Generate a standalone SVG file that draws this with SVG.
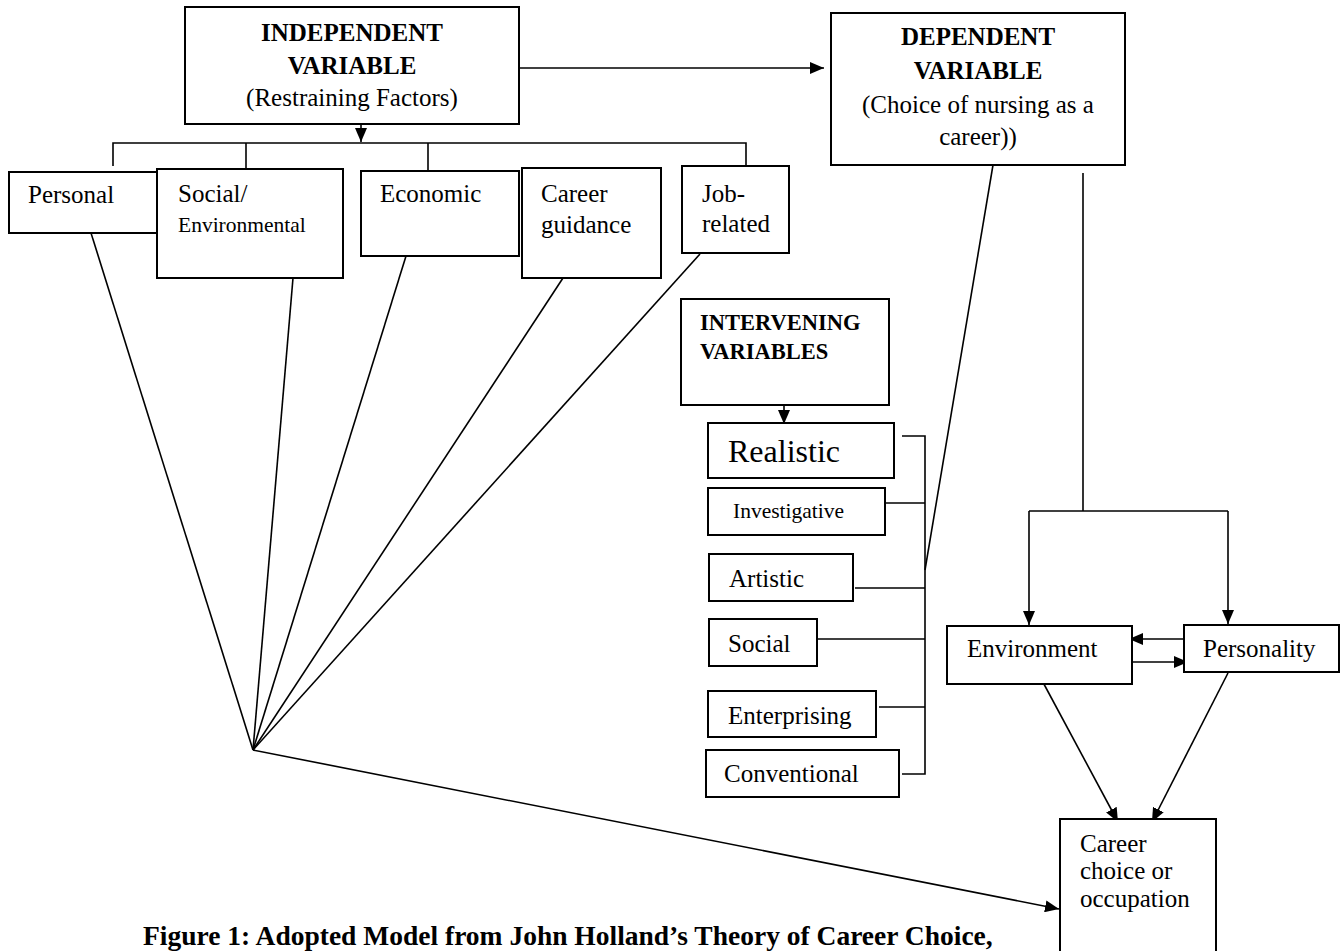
<svg xmlns="http://www.w3.org/2000/svg" width="1341" height="951" viewBox="0 0 1341 951">
<style>
.box{fill:#fff;stroke:#000;stroke-width:2}
.ln{fill:none;stroke:#000;stroke-width:1.6}
text{font-family:"Liberation Serif","Times New Roman",serif;fill:#000;font-size:25px}
.b{font-weight:bold}
.c{text-anchor:middle}
</style>
<defs>
<marker id="ah" markerWidth="14" markerHeight="12" refX="14" refY="6" orient="auto" markerUnits="userSpaceOnUse">
<path d="M0,0 L14,6 L0,12 z" fill="#000"/>
</marker>
</defs>
<rect width="1341" height="951" fill="#fff"/>

<g id="connectors">
<line class="ln" x1="361" y1="124" x2="361" y2="142" marker-end="url(#ah)"/>
<polyline class="ln" points="113,166 113,143 746,143 746,166"/>
<line class="ln" x1="246" y1="143" x2="246" y2="169"/>
<line class="ln" x1="428" y1="143" x2="428" y2="171"/>
<line class="ln" x1="520" y1="68" x2="824" y2="68" marker-end="url(#ah)"/>
<line class="ln" x1="91" y1="233" x2="253" y2="750"/>
<line class="ln" x1="293" y1="278" x2="253" y2="750"/>
<line class="ln" x1="406" y1="256" x2="253" y2="750"/>
<line class="ln" x1="563" y1="278" x2="253" y2="750"/>
<line class="ln" x1="700" y1="254" x2="253" y2="750"/>
<line class="ln" x1="253" y1="750" x2="1059" y2="909" marker-end="url(#ah)"/>
<line class="ln" x1="993" y1="165" x2="925" y2="570"/>
<line class="ln" x1="784" y1="405" x2="784" y2="424" marker-end="url(#ah)"/>
<polyline class="ln" points="902,436 925,436 925,774 902,774"/>
<line class="ln" x1="880" y1="503" x2="925" y2="503"/>
<line class="ln" x1="855" y1="588" x2="925" y2="588"/>
<line class="ln" x1="812" y1="639" x2="925" y2="639"/>
<line class="ln" x1="879" y1="707" x2="925" y2="707"/>
<line class="ln" x1="1083" y1="173" x2="1083" y2="511"/>
<polyline class="ln" points="1029,511 1228,511"/>
<line class="ln" x1="1029" y1="511" x2="1029" y2="625" marker-end="url(#ah)"/>
<line class="ln" x1="1228" y1="511" x2="1228" y2="624" marker-end="url(#ah)"/>
<line class="ln" x1="1190" y1="639" x2="1129" y2="639" marker-end="url(#ah)"/>
<line class="ln" x1="1128" y1="662" x2="1188" y2="662" marker-end="url(#ah)"/>
<line class="ln" x1="1038" y1="673" x2="1118" y2="822" marker-end="url(#ah)"/>
<line class="ln" x1="1228" y1="673" x2="1152" y2="822" marker-end="url(#ah)"/>
</g>

<g id="independent">
<rect class="box" x="185" y="7" width="334" height="117"/>
<text class="b c" x="352" y="41">INDEPENDENT</text>
<text class="b c" x="352" y="74">VARIABLE</text>
<text class="c" x="352" y="106">(Restraining Factors)</text>
</g>

<g id="dependent">
<rect class="box" x="831" y="13" width="294" height="152"/>
<text class="b c" x="978" y="45">DEPENDENT</text>
<text class="b c" x="978" y="79">VARIABLE</text>
<text class="c" x="978" y="113">(Choice of nursing as a</text>
<text class="c" x="978" y="145">career))</text>
</g>

<g id="personal">
<rect class="box" x="9" y="172" width="148" height="61"/>
<text x="28" y="203">Personal</text>
</g>
<g id="social-env">
<rect class="box" x="157" y="169" width="186" height="109"/>
<text x="178" y="202">Social/</text>
<text x="178" y="232" style="font-size:21.5px">Environmental</text>
</g>
<g id="economic">
<rect class="box" x="361" y="171" width="158" height="85"/>
<text x="380" y="202">Economic</text>
</g>
<g id="career-guidance">
<rect class="box" x="522" y="168" width="139" height="110"/>
<text x="541" y="202">Career</text>
<text x="541" y="233">guidance</text>
</g>
<g id="job-related">
<rect class="box" x="682" y="166" width="107" height="87"/>
<text x="702" y="202">Job-</text>
<text x="702" y="232">related</text>
</g>

<g id="intervening">
<rect class="box" x="681" y="299" width="208" height="106"/>
<text class="b" x="700" y="330" style="font-size:22.5px">INTERVENING</text>
<text class="b" x="700" y="359" style="font-size:22.5px">VARIABLES</text>
</g>
<g id="realistic">
<rect class="box" x="708" y="423" width="186" height="55"/>
<text x="728" y="462" style="font-size:32px">Realistic</text>
</g>
<g id="investigative">
<rect class="box" x="708" y="488" width="177" height="47"/>
<text x="733" y="518" style="font-size:21.5px">Investigative</text>
</g>
<g id="artistic">
<rect class="box" x="709" y="554" width="144" height="47"/>
<text x="729" y="587">Artistic</text>
</g>
<g id="social">
<rect class="box" x="709" y="619" width="108" height="47"/>
<text x="728" y="652">Social</text>
</g>
<g id="enterprising">
<rect class="box" x="708" y="691" width="168" height="46"/>
<text x="728" y="724">Enterprising</text>
</g>
<g id="conventional">
<rect class="box" x="706" y="750" width="193" height="47"/>
<text x="724" y="782">Conventional</text>
</g>

<g id="environment">
<rect class="box" x="947" y="626" width="185" height="58"/>
<text x="967" y="657">Environment</text>
</g>
<g id="personality">
<rect class="box" x="1184" y="625" width="155" height="47"/>
<text x="1203" y="657">Personality</text>
</g>
<g id="career-choice">
<rect class="box" x="1060" y="819" width="156" height="140"/>
<text x="1080" y="852">Career</text>
<text x="1080" y="879">choice or</text>
<text x="1080" y="907">occupation</text>
</g>

<g id="caption">
<text class="b" x="143" y="945" style="font-size:27.5px">Figure 1: Adopted Model from John Holland’s Theory of Career Choice,</text>
</g>
</svg>
